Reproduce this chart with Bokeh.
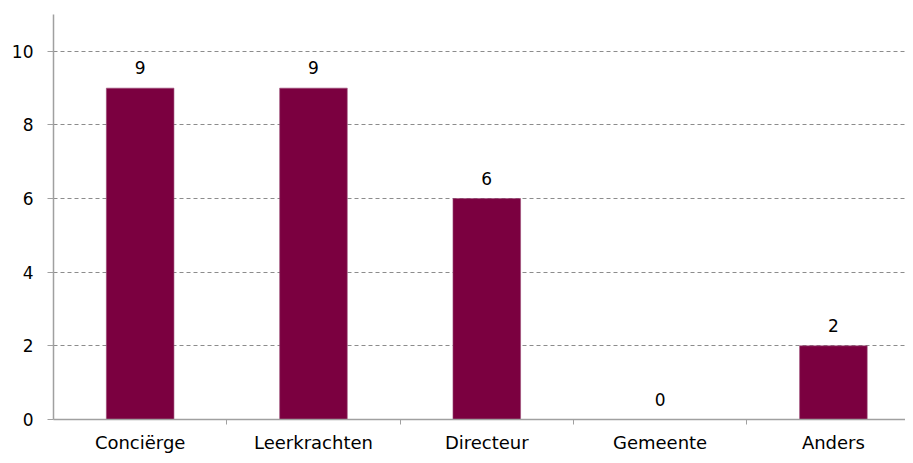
from bokeh.plotting import figure
from bokeh.models import ColumnDataSource, Range1d, FixedTicker, LabelSet
from bokeh.core.properties import value
from bokeh.embed import file_html
from bokeh.resources import INLINE

categories = ["Conciërge", "Leerkrachten", "Directeur", "Gemeente", "Anders"]
values = [9, 9, 6, 0, 2]
y_ticks = [0, 2, 4, 6, 8, 10]

xs = [i + 0.5 for i in range(len(categories))]
labels = [str(v) for v in values]
src = ColumnDataSource(dict(x=xs, top=values, label=labels))

p = figure(width=905, height=455, output_backend="svg", toolbar_location=None,
           x_range=Range1d(0, 4.916), y_range=Range1d(0, 11),
           min_border_left=53, min_border_right=0, min_border_top=14, min_border_bottom=20)
p.outline_line_color = None
p.background_fill_color = "white"

bar_color = "#7B0040"
p.vbar(x="x", top="top", bottom=0, width=0.39, source=src,
       fill_color=bar_color, line_color="#9B4A75", line_width=0.6)

lbl = LabelSet(x="x", y="top", text="label", source=src, text_align="center",
               text_baseline="alphabetic", y_offset=14,
               text_font=value("DejaVu Sans"), text_font_size=value("17px"),
               text_color="#000000")
p.add_layout(lbl)

# x axis
xa = p.xaxis[0]
xa.ticker = FixedTicker(ticks=xs, minor_ticks=[1, 2, 3, 4])
xa.major_label_overrides = {x: c for x, c in zip(xs, categories)}
xa.major_tick_out = 0
xa.major_tick_in = 0
xa.minor_tick_out = 5
xa.minor_tick_in = 0
xa.minor_tick_line_color = "#A0A0A0"
xa.axis_line_color = "#A0A0A0"
xa.axis_line_width = 1.5
xa.major_label_standoff = 7
xa.major_label_text_font = "DejaVu Sans"
xa.major_label_text_font_size = "18px"
xa.major_label_text_color = "#000000"

# y axis
ya = p.yaxis[0]
ya.ticker = FixedTicker(ticks=y_ticks)
ya.major_tick_out = 6
ya.major_tick_in = 0
ya.minor_tick_out = 0
ya.minor_tick_in = 0
ya.major_tick_line_color = "#A0A0A0"
ya.axis_line_color = "#A0A0A0"
ya.axis_line_width = 1.5
ya.major_label_standoff = 14
ya.major_label_text_font = "DejaVu Sans"
ya.major_label_text_font_size = "17px"
ya.major_label_text_color = "#000000"

p.xgrid.visible = False
p.ygrid.ticker = FixedTicker(ticks=[t for t in y_ticks if t > 0])
p.ygrid.grid_line_color = "#8C8C8C"
p.ygrid.grid_line_dash = "4 3"
p.ygrid.grid_line_width = 1

open("out.html", "w").write(file_html(p, INLINE))
